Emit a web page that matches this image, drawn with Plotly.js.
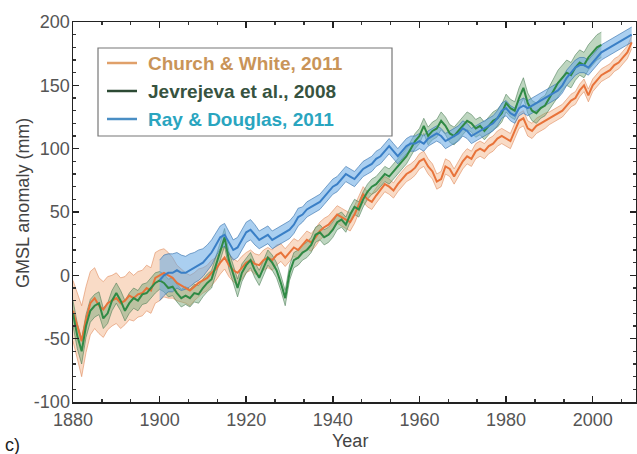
<!DOCTYPE html>
<html>
<head>
<meta charset="utf-8">
<script src="https://cdn.plot.ly/plotly-3.0.1.min.js"></script>
<style>html,body{margin:0;padding:0;background:#fff;}#chart{width:637px;height:454px;}</style>
</head>
<body>
<div id="chart"></div>
<script>
// Church & White, 2011 (annual, 1880-2009), mm
const cwStart = 1880;
const cwValues = [
 -28,-40,-52,-35,-22,-18,-24,-27,-22,-20,
 -18,-22,-20,-16,-18,-15,-14,-10,-12,-2,
 0,2,0,-2,-6,-8,-10,-12,-9,-6,
 -4,-2,2,5,10,14,8,4,2,6,
 10,12,9,8,12,14,12,16,18,14,
 18,22,20,24,28,26,30,35,38,40,
 44,48,46,44,42,48,56,64,60,58,
 63,68,72,70,67,72,76,80,82,85,
 90,92,86,82,74,76,86,84,78,84,
 90,94,92,98,100,98,102,104,108,110,
 108,106,114,122,124,116,114,118,120,122,
 124,126,128,130,134,138,140,146,150,142,
 150,154,158,160,162,166,168,172,176,184
];
const cwErr = [
 24,26,28,26,25,24,22,22,21,20,
 20,20,19,19,18,18,18,18,18,20,
 20,19,18,16,14,13,12,12,11,11,
 10,10,10,9,9,9,9,9,9,9,
 8,8,8,8,8,8,8,8,7,7,
 7,7,7,7,7,7,7,7,7,7,
 7,7,7,7,7,7,6,6,6,6,
 6,6,6,6,6,6,6,6,6,6,
 6,6,6,6,6,6,6,6,6,6,
 6,6,6,6,6,6,6,6,6,6,
 6,6,6,6,6,6,6,6,6,6,
 5,5,5,5,5,5,5,5,5,5,
 5,5,5,5,5,5,5,5,5,5
];

// Jevrejeva et al., 2008 (annual, 1880-2002), mm
const jvStart = 1880;
const jvValues = [
 -30,-48,-60,-40,-28,-24,-22,-34,-30,-20,
 -14,-20,-28,-22,-18,-20,-15,-14,-10,-6,
 -4,-6,-10,-9,-14,-18,-16,-18,-14,-15,
 -10,-6,-3,8,20,30,12,0,-10,2,
 8,12,4,-2,6,14,10,4,-6,-18,
 2,12,14,18,20,24,32,34,30,32,
 36,42,44,40,48,54,52,60,66,70,
 72,76,80,78,82,86,90,94,100,106,
 110,118,110,114,116,122,118,112,110,114,
 118,122,120,116,118,114,118,122,124,128,
 136,132,130,140,148,136,130,128,132,134,
 140,146,152,156,160,158,164,168,166,172,
 176,180,182
];
const jvErr = [
 10,10,10,9,9,9,9,8,8,8,
 8,8,8,8,8,8,8,8,8,8,
 7,7,7,7,7,7,7,7,7,7,
 7,7,7,7,7,7,7,7,7,7,
 6,6,6,6,6,6,6,6,6,6,
 6,6,6,6,6,6,6,6,6,6,
 6,6,6,6,6,6,6,6,6,6,
 6,6,6,6,6,6,6,6,6,6,
 6,6,7,7,7,7,7,7,7,7,
 7,7,7,7,7,7,7,7,7,7,
 7,7,7,8,8,8,8,8,8,8,
 9,9,10,10,10,10,10,10,10,10,
 10,10,10
];

// Ray & Douglas, 2011 (annual, 1900-2009), mm
const rdStart = 1900;
const rdValues = [
 -4,0,2,2,4,2,2,4,6,8,
 10,14,18,24,30,32,26,20,22,28,
 34,36,32,28,30,32,28,30,32,34,
 36,40,46,48,52,54,56,58,62,66,
 70,72,76,80,78,76,80,84,86,88,
 92,94,98,102,98,94,98,102,104,104,
 106,104,108,110,112,110,106,108,110,112,
 116,114,110,112,114,116,118,120,124,130,
 132,128,126,132,134,132,134,136,138,140,
 142,144,146,150,156,160,164,166,166,164,
 168,172,176,178,180,182,184,186,188,190
];
const rdErr = [
 16,16,15,15,14,14,13,13,12,12,
 11,10,10,9,9,9,8,8,8,8,
 8,8,8,7,7,7,7,7,7,7,
 7,7,7,6,6,6,6,6,6,6,
 6,6,6,6,6,6,6,6,6,6,
 6,6,6,6,6,6,6,6,6,6,
 6,6,6,6,6,6,6,6,6,6,
 6,6,6,6,6,6,6,6,6,6,
 6,6,6,6,6,6,6,6,6,6,
 6,6,6,6,6,6,6,6,6,6,
 6,6,6,6,6,6,6,6,6,6
];

const seriesNames = ["Church & White, 2011", "Jevrejeva et al., 2008", "Ray & Douglas, 2011"];
const xTickVals = [1880, 1900, 1920, 1940, 1960, 1980, 2000];
const yTickVals = [-100, -50, 0, 50, 100, 150, 200];
const xTitle = "Year";
const yTitle = "GMSL anomaly (mm)";
const panelLabel = "c)";

function years(start, n) { const a = []; for (let i = 0; i < n; i++) a.push(start + i); return a; }

const specs = [
  {start: cwStart, vals: cwValues, err: cwErr, line: "#e8733a", fill: "rgba(242,176,128,0.45)", edge: "rgba(222,132,82,0.55)"},
  {start: jvStart, vals: jvValues, err: jvErr, line: "#2f8a45", fill: "rgba(110,165,115,0.45)", edge: "rgba(70,120,80,0.55)"},
  {start: rdStart, vals: rdValues, err: rdErr, line: "#3a7fc6", fill: "rgba(100,168,228,0.55)", edge: "rgba(50,110,170,0.6)"}
];

const traces = [];
specs.forEach(s => {
  const x = years(s.start, s.vals.length);
  const up = s.vals.map((v, i) => v + s.err[i]);
  const lo = s.vals.map((v, i) => v - s.err[i]);
  traces.push({x: x, y: up, type: "scatter", mode: "lines", line: {color: s.edge, width: 1}, showlegend: false, hoverinfo: "skip"});
  traces.push({x: x, y: lo, type: "scatter", mode: "lines", line: {color: s.edge, width: 1}, fill: "tonexty", fillcolor: s.fill, showlegend: false, hoverinfo: "skip"});
});
specs.forEach((s, k) => {
  traces.push({x: years(s.start, s.vals.length), y: s.vals, type: "scatter", mode: "lines",
    name: seriesNames[k], line: {color: s.line, width: 2}, showlegend: false});
});

const font = "Liberation Sans, Arial, sans-serif";
const legendText = ["#c99458", "#37533f", "#2aa5bf"];
const legendLine = ["#e0a06a", "#2c4a34", "#4a8ec4"];
const lgX0 = 98, lgX1 = 392, lgY0 = 48, lgY1 = 136, lgRows = [63, 91, 119];
const L = 73, T = 22, W = 563, H = 380;
function px(xp) { return (xp - L) / W; }
function py(yp) { return 1 - (yp - T) / H; }

const shapes = [{type: "rect", xref: "paper", yref: "paper", x0: px(lgX0), x1: px(lgX1), y0: py(lgY1), y1: py(lgY0),
  line: {color: "#777", width: 1.2}, fillcolor: "rgba(255,255,255,1)"}];
const annotations = [];
seriesNames.forEach((n, k) => {
  shapes.push({type: "line", xref: "paper", yref: "paper", x0: px(107), x1: px(137), y0: py(lgRows[k]), y1: py(lgRows[k]),
    line: {color: legendLine[k], width: 2.5}});
  annotations.push({xref: "paper", yref: "paper", x: px(146), y: py(lgRows[k]), xanchor: "left", yanchor: "middle",
    text: "<b>" + n + "</b>", showarrow: false, font: {family: font, size: 19, color: legendText[k]}});
});
annotations.push({xref: "paper", yref: "paper", x: px(350), y: py(441), xanchor: "center", yanchor: "middle",
  text: xTitle, showarrow: false, font: {family: font, size: 18, color: "#444"}});
annotations.push({xref: "paper", yref: "paper", x: px(23), y: py(203), xanchor: "center", yanchor: "middle",
  text: yTitle, textangle: -90, showarrow: false, font: {family: font, size: 18, color: "#444"}});
annotations.push({xref: "paper", yref: "paper", x: px(3), y: py(433), xanchor: "left", yanchor: "top",
  text: panelLabel, showarrow: false, font: {family: font, size: 18, color: "#222"}});

const layout = {
  width: 637, height: 454,
  margin: {l: L, r: 637 - L - W, t: T, b: 454 - T - H, pad: 0},
  paper_bgcolor: "#fff", plot_bgcolor: "#fff",
  showlegend: false,
  font: {family: font, size: 18, color: "#444"},
  xaxis: {
    range: [1880, 2010], tickvals: xTickVals, ticktext: xTickVals.map(String),
    ticks: "inside", ticklen: 6, tickwidth: 1.5, tickcolor: "#222",
    showline: true, linecolor: "#222", linewidth: 1.5, mirror: "allticks",
    showgrid: false, zeroline: false, ticklabelstandoff: 1,
    tickfont: {family: font, size: 18, color: "#555"},
    minor: {dtick: 20 / 3, tick0: 1880, ticks: "inside", ticklen: 3, tickcolor: "#333", showgrid: false}
  },
  yaxis: {
    range: [-100, 200], tickvals: yTickVals, ticktext: yTickVals.map(String),
    ticks: "inside", ticklen: 6, tickwidth: 1.5, tickcolor: "#222",
    showline: true, linecolor: "#222", linewidth: 1.5, mirror: "allticks",
    showgrid: false, zeroline: false, ticklabelstandoff: -2,
    tickfont: {family: font, size: 18, color: "#555"},
    minor: {dtick: 10, ticks: "inside", ticklen: 3, tickcolor: "#333", showgrid: false}
  },
  shapes: shapes,
  annotations: annotations
};

Plotly.newPlot("chart", traces, layout, {displayModeBar: false, staticPlot: true});
</script>
</body>
</html>
